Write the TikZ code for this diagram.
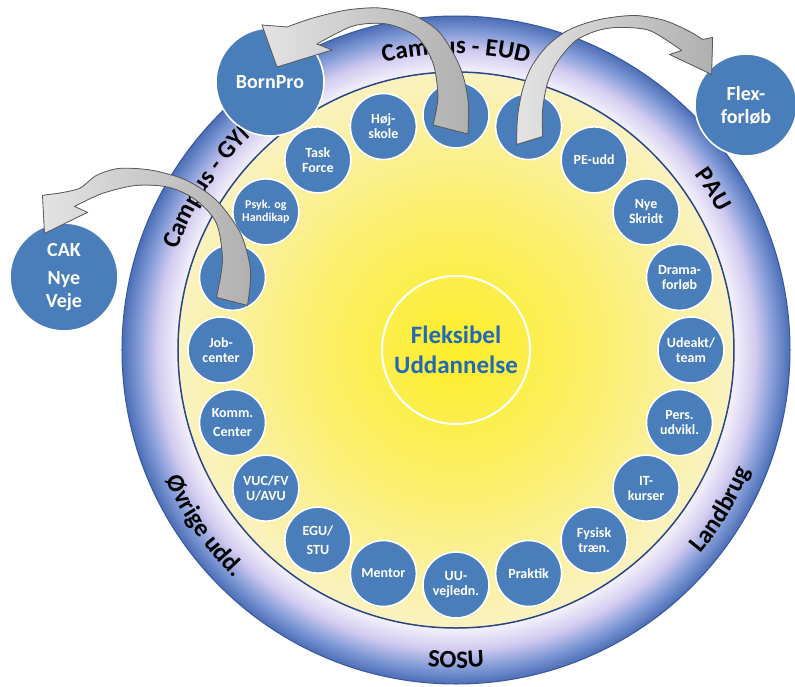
\documentclass[tikz,border=0pt]{standalone}
\usepackage{fontspec}
\setmainfont{Carlito}
\usepackage{xcolor}
\usepackage{tikz}
\usetikzlibrary{decorations.text}

\definecolor{bubblue}{RGB}{74,126,187}
\definecolor{ringout}{RGB}{76,110,182}
\definecolor{ringdeep}{RGB}{130,155,215}
\definecolor{ringmid}{RGB}{210,203,240}
\definecolor{ringin}{RGB}{245,242,251}
\definecolor{ringedge}{RGB}{55,88,158}
\definecolor{ringline}{RGB}{40,70,135}
\definecolor{sunin}{RGB}{252,238,40}
\definecolor{sunmid}{RGB}{251,239,110}
\definecolor{sunout}{RGB}{250,242,192}
\definecolor{titleblue}{RGB}{35,105,180}
\definecolor{arrowline}{RGB}{90,90,90}

\pgfdeclareradialshading{ringshade}{\pgfpoint{0bp}{0bp}}{color(0bp)=(ringin); color(20.8bp)=(ringin); color(22.4bp)=(ringmid); color(23.8bp)=(ringdeep); color(25bp)=(ringout); color(50bp)=(ringout)}
\pgfdeclareradialshading{sunshade}{\pgfpoint{0bp}{0bp}}{color(0bp)=(sunin); color(13bp)=(sunmid); color(25bp)=(sunout); color(50bp)=(sunout)}

\newcommand\ringfont{\fontsize{25}{30}\selectfont\bfseries}
\newcommand\bubblefont{\fontsize{14}{15}\selectfont\bfseries}
\newcommand\bigfont{\fontsize{20}{23}\selectfont\bfseries}
\newcommand\hubfont{\fontsize{25}{30}\selectfont\bfseries}

\begin{document}
\begin{tikzpicture}[x=1pt,y=1pt]

                \edef\sizebubble{66pt}
                \edef\sizeouter{102pt}
                \tikzstyle{bubble}=[circle,draw=white,line width=1.6pt,fill=bubblue,text=white,minimum size=\sizebubble,inner sep=0pt,align=center,font=\bubblefont]
                \tikzstyle{outer}=[bubble,minimum size=\sizeouter,font=\bigfont]
                \tikzstyle{ringtext}=[decorate,decoration={text along path,text align=center}]
                \tikzstyle{blockarrow}=[draw=arrowline,line width=0.8pt,left color=gray!22,right color=gray!62]

                \useasboundingbox (-456,-336) rectangle (339,350);

                % ring and yellow disc
                \shadedraw[shading=ringshade,draw=ringedge,line width=1pt] (0,0) circle (334);
                \shadedraw[shading=sunshade,draw=ringline,line width=1.5pt] (0,0) circle (278);

                % texts in the ring
                \path[ringtext,decoration={text={|\ringfont|Campus - EUD}}] (112:296) arc[start angle=112,end angle=68,radius=296];
                \path[ringtext,decoration={text={|\ringfont|Campus - GYM}}] (175:296) arc[start angle=175,end angle=116,radius=296];
                \path[ringtext,decoration={text={|\ringfont|PAU}}] (52:296) arc[start angle=52,end angle=12,radius=296];
                \path[ringtext,decoration={text={|\ringfont|Landbrug}}] (300:318) arc[start angle=300,end angle=358,radius=318];
                \path[ringtext,decoration={text={|\ringfont|SOSU}}] (245:318) arc[start angle=245,end angle=295,radius=318];
                \path[ringtext,decoration={text={|\ringfont|Øvrige udd.}}] (188:318) arc[start angle=188,end angle=242,radius=318];

                \node[circle,draw=white,line width=2pt,minimum size=148pt,align=center,text=titleblue,font=\hubfont] (hub) at (0,0) {Fleksibel\\Uddannelse};

                \node[bubble] (udeakt) at (0:235) {Udeakt/\\team};
                \node[bubble] (drama) at (18:235) {Drama-\\forløb};
                \node[bubble] (nyeskridt) at (36:235) {Nye\\Skridt};
                \node[bubble] (peudd) at (54:235) {PE-udd};
                \node[bubble] (gap2) at (72:235) {};
                \node[bubble] (gap1) at (90:235) {};
                \node[bubble] (hojskole) at (108:235) {Høj-\\skole};
                \node[bubble] (taskforce) at (126:235) {Task\\Force};
                \node[bubble,font=\fontsize{12}{13}\selectfont\bfseries] (psyk) at (144:235) {Psyk. og\\Handikap};
                \node[bubble] (gap3) at (162:235) {};
                \node[bubble] (jobcenter) at (180:235) {Job-\\center};
                \node[bubble] (komm) at (198:235) {Komm.\\[4pt]Center};
                \node[bubble] (vuc) at (216:235) {VUC/FV\\U/AVU};
                \node[bubble] (egu) at (234:235) {EGU/\\[4pt]STU};
                \node[bubble] (mentor) at (252:235) {Mentor};
                \node[bubble] (uu) at (270:235) {UU-\\vejledn.};
                \node[bubble] (praktik) at (288:235) {Praktik};
                \node[bubble] (fysisk) at (306:235) {Fysisk\\træn.};
                \node[bubble] (itkurser) at (324:235) {IT-\\kurser};
                \node[bubble] (pers) at (342:235) {Pers.\\udvikl.};

                % outside the ring
                \node[outer,minimum size=108pt] (bornpro) at (-186,268) {BornPro};
                \node[outer] (flex) at (290,245) {Flex-\\forløb};
                \node[outer,minimum size=108pt] (cak) at (-392,73) {CAK\\[5pt]Nye\\Veje};

                % gap1 -> bornpro
                \begin{scope}[shift={(gap1)}]
                    \filldraw[blockarrow] (-23,-10) -- (12,-19) -- plot[smooth] coordinates {(12,-19) (12,15) (4,48) (-16,82) (-43,100) (-76,107) (-109,105) (-143,97) (-169,88)} -- (-194,90) -- (-179,48) -- (-124,65) -- (-139,71) -- plot[smooth] coordinates {(-139,71) (-103,89) (-69,91) (-39,78) (-23,52) (-18,18) (-23,-10)} -- cycle;
                \end{scope}

                % gap2 -> flex
                \begin{scope}[shift={(gap2)}]
                    \filldraw[blockarrow] (14,-10) -- (-12,-18) -- plot[smooth] coordinates {(-12,-18) (-11,10) (-6,37) (3,60) (19,81) (41,97) (71,107) (106,111) (136,106) (161,95) (174,87)} -- (184,89) -- (183,52) -- (141,72) -- (153,76) -- plot[smooth] coordinates {(153,76) (121,96) (88,99) (66,95) (46,85) (29,65) (19,44) (14,17) (14,-10)} -- cycle;
                \end{scope}

                % gap3 -> cak
                \begin{scope}[shift={(gap3)}]
                    \filldraw[blockarrow] (-16,-20) -- (15,-28) -- plot[smooth] coordinates {(15,-28) (18,7) (8,44) (-16,77) (-46,97) (-80,107) (-113,109) (-136,102) (-153,89) (-175,84)} -- (-190,82) -- (-188,44) -- (-145,65) -- (-158,71) -- plot[smooth] coordinates {(-158,71) (-130,84) (-96,92) (-63,90) (-36,77) (-16,54) (-10,17) (-16,-20)} -- cycle;
                \end{scope}

\end{tikzpicture}
\end{document}
